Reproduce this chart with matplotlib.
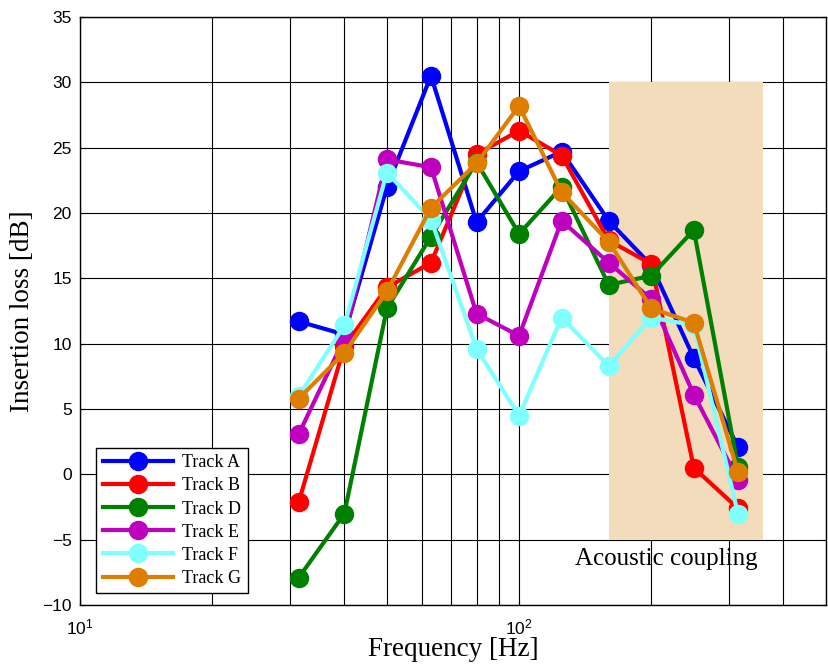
import matplotlib
matplotlib.use('Agg')
import matplotlib.pyplot as plt
from matplotlib.patches import Rectangle

# third-octave band centre frequencies [Hz]
freqs = [31.5, 40, 50, 63, 80, 100, 125, 160, 200, 250, 315]

track_a = [11.7, 10.7, 22.0, 30.5, 19.3, 23.2, 24.7, 19.4, 16.0, 8.9, 2.1]
track_b = [-2.1, 9.8, 14.3, 16.2, 24.5, 26.3, 24.4, 17.9, 16.1, 0.5, -2.6]
track_d = [-7.9, -3.0, 12.7, 18.2, 23.9, 18.4, 22.0, 14.5, 15.2, 18.7, 0.6]
track_e = [3.1, 10.4, 24.1, 23.5, 12.3, 10.6, 19.4, 16.2, 13.4, 6.1, -0.4]
track_f = [6.0, 11.4, 23.1, 19.5, 9.6, 4.5, 12.0, 8.3, 12.0, 11.4, -3.0]
track_g = [5.8, 9.3, 14.0, 20.4, 23.8, 28.2, 21.6, 17.8, 12.7, 11.6, 0.2]

labels = ['Track A', 'Track B', 'Track D', 'Track E', 'Track F', 'Track G']
colors = ['#0000ff', '#ff0000', '#008000', '#bf00bf', '#80ffff', '#de7e00']

# frequency band where acoustic coupling dominates
coupling_f = (160, 360)
coupling_db = (-5, 30)

serif = 'Liberation Serif'
plt.rcParams['font.family'] = 'Liberation Sans'

fig = plt.figure(figsize=(8.29, 6.70), dpi=100)
ax = fig.add_axes([0.0965, 0.097, 0.8999, 0.8776])

ax.add_patch(Rectangle((coupling_f[0], coupling_db[0]),
                       coupling_f[1] - coupling_f[0],
                       coupling_db[1] - coupling_db[0],
                       facecolor='#f2dcbb', edgecolor='none', zorder=1))

for y, lab, c in zip([track_a, track_b, track_d, track_e, track_f, track_g],
                     labels, colors):
    ax.plot(freqs, y, '-o', color=c, lw=3, markersize=13, label=lab, zorder=3)

ax.set_xscale('log')
ax.set_xlim(10, 500)
ax.set_ylim(-10, 35)
ax.set_yticks(range(-10, 36, 5))

ax.set_axisbelow(True)
ax.grid(True, which='major', color='black', lw=0.8)
ax.grid(True, which='minor', axis='x', color='black', lw=0.8)
ax.tick_params(which='both', direction='in', top=True, right=True,
               labelsize=12.5)
ax.tick_params(axis='x', pad=9)
ax.tick_params(axis='y', pad=6)
for s in ax.spines.values():
    s.set_linewidth(1.0)

ax.set_xlabel('Frequency [Hz]', family=serif, fontsize=19.5, labelpad=0)
ax.set_ylabel('Insertion loss [dB]', family=serif, fontsize=19.5, labelpad=5)

ax.text(216, -6.5, 'Acoustic coupling', family=serif, fontsize=18,
        ha='center', va='center')

leg = ax.legend(loc='lower left', bbox_to_anchor=(0.022, 0.020),
                prop={'family': serif, 'size': 13}, handlelength=3.9,
                handletextpad=0.5, borderpad=0.35,
                fancybox=False, framealpha=1, edgecolor='black',
                borderaxespad=0, labelspacing=0.34)
leg.get_frame().set_linewidth(1.0)

fig.savefig('out.png', dpi=100)
